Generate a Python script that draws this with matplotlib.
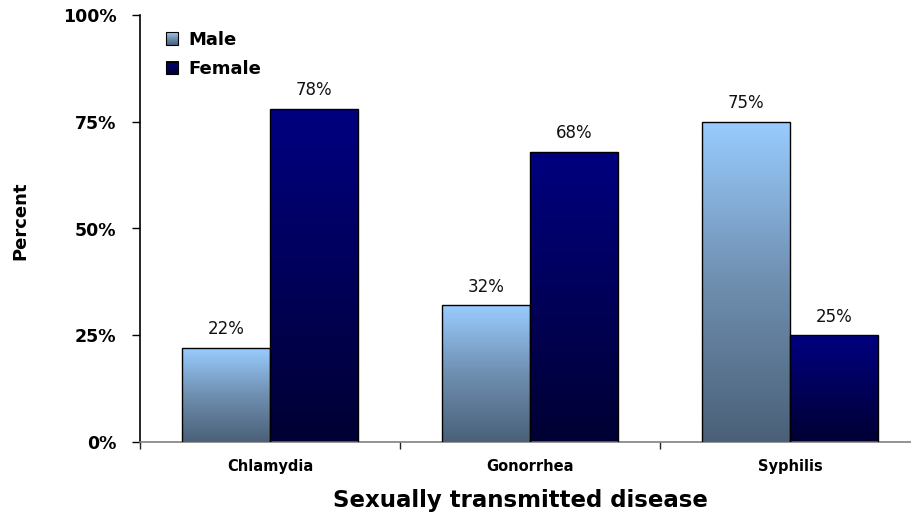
import numpy as np
import matplotlib
matplotlib.use("Agg")
import matplotlib.pyplot as plt
from matplotlib.colors import LinearSegmentedColormap
from matplotlib.legend_handler import HandlerBase
from matplotlib.image import BboxImage
from matplotlib.transforms import Bbox, TransformedBbox
from matplotlib.patches import Rectangle, Patch
from matplotlib.ticker import FixedLocator, FuncFormatter

categories = ["Chlamydia", "Gonorrhea", "Syphilis"]
male = [22, 32, 75]
female = [78, 68, 25]
series_names = ["Male", "Female"]
yticks = [0, 25, 50, 75, 100]

plt.rcParams['font.family'] = ['DejaVu Sans']

male_cmap = LinearSegmentedColormap.from_list("m", ["#4A6078", "#6F8FB0", "#99CCFF"])
female_cmap = LinearSegmentedColormap.from_list("f", ["#000033", "#000080"])
grad = np.linspace(0, 1, 256).reshape(-1, 1)

fig = plt.figure(figsize=(9.12, 5.25), dpi=100)
ax = fig.add_axes([140/912, 83/525, 780/912, 427/525])

x = np.arange(len(categories))
w = 0.337
bars_m = ax.bar(x - w/2, male, w, facecolor='none', edgecolor='black', linewidth=1.0, zorder=3)
bars_f = ax.bar(x + w/2, female, w, facecolor='none', edgecolor='black', linewidth=1.0, zorder=3)

for bars, cmap in ((bars_m, male_cmap), (bars_f, female_cmap)):
    for b in bars:
        x0, y0 = b.get_x(), b.get_y()
        bw, bh = b.get_width(), b.get_height()
        im = ax.imshow(grad, cmap=cmap, origin='lower', aspect='auto',
                       extent=[x0, x0 + bw, y0, y0 + bh], zorder=2, interpolation='bicubic')
        im.set_clip_path(b)

for bars, vals in ((bars_m, male), (bars_f, female)):
    for b, v in zip(bars, vals):
        ax.annotate(f"{v}%", (b.get_x() + b.get_width()/2, v), xytext=(0, 7),
                    textcoords='offset points', ha='center', va='bottom', fontsize=12, color='#111111')

ax.set_xlim(-0.5, 2.5)
ax.set_ylim(0, 100)

ax.yaxis.set_major_locator(FixedLocator(yticks))
ax.yaxis.set_major_formatter(FuncFormatter(lambda v, p: f"{int(v)}%"))
ax.tick_params(axis='y', direction='out', length=6, width=1, pad=11, labelsize=12.5)
for lab in ax.get_yticklabels():
    lab.set_fontweight('bold')

ax.set_xticks(x)
ax.set_xticklabels(categories, fontsize=10.5, fontweight='bold')
ax.set_xticks([-0.5, 0.5, 1.5, 2.5], minor=True)
ax.tick_params(axis='x', which='major', length=0, pad=12)
ax.tick_params(axis='x', which='minor', length=5, width=1, color='#222222', direction='out')

for s in ('top', 'right'):
    ax.spines[s].set_visible(False)
ax.spines['left'].set_color('black')
ax.spines['left'].set_linewidth(1.2)
ax.spines['bottom'].set_color('#808080')
ax.spines['bottom'].set_linewidth(1.2)

fig.text(20/912, 1 - 221/525, "Percent", rotation=90, ha='center', va='center',
         fontsize=13, fontweight='bold')
fig.text(520/912, 1 - 500/525, "Sexually transmitted disease", ha='center', va='center',
         fontsize=16.5, fontweight='bold')


class GradHandler(HandlerBase):
    def __init__(self, cmap):
        super().__init__()
        self.cmap = cmap

    def create_artists(self, legend, orig_handle, xdescent, ydescent, width, height, fontsize, trans):
        s = height * 0.95
        x0 = -xdescent
        y0 = -ydescent + (height - s) / 2
        bb = TransformedBbox(Bbox.from_bounds(x0, y0, s, s), trans)
        img = BboxImage(bb, cmap=self.cmap, origin='lower', interpolation='bicubic')
        img.set_data(grad)
        rect = Rectangle((x0, y0), s, s, facecolor='none', edgecolor='black', linewidth=0.8, transform=trans)
        return [img, rect]


h_m = Patch(label=series_names[0])
h_f = Patch(label=series_names[1])
leg = ax.legend([h_m, h_f], series_names,
                handler_map={h_m: GradHandler(male_cmap), h_f: GradHandler(female_cmap)},
                loc='upper left', bbox_to_anchor=(0.017, 0.992), frameon=False,
                prop={'weight': 'bold', 'size': 13}, handlelength=0.75, handleheight=0.75,
                handletextpad=0.5, labelspacing=0.62, borderpad=0.2)

fig.savefig("out.png", dpi=100)
